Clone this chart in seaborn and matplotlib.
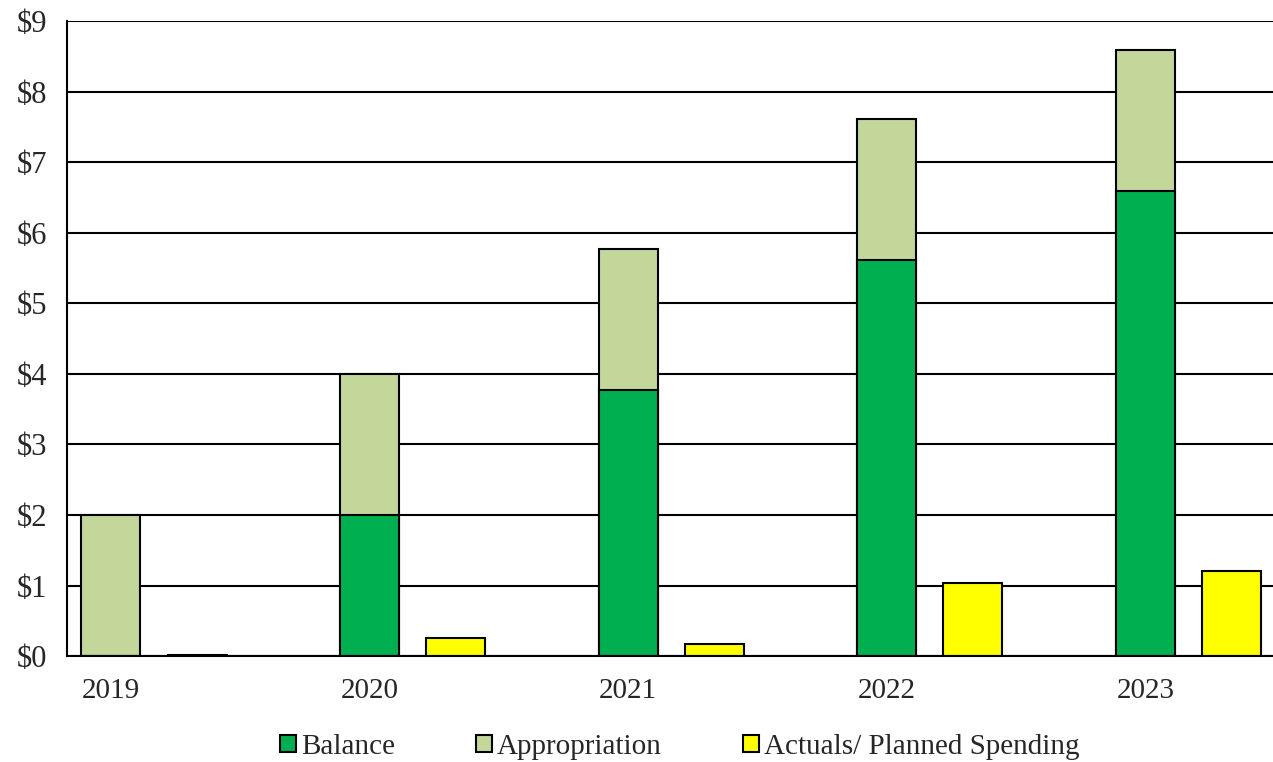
import matplotlib
matplotlib.use("Agg")
import matplotlib.pyplot as plt
import seaborn as sns
import numpy as np
import pandas as pd
from matplotlib.patches import Patch

years = ["2019", "2020", "2021", "2022", "2023"]
balance = [0.0, 2.0, 3.77, 5.61, 6.59]
appropriation = [2.0, 2.0, 2.0, 2.0, 2.0]
actuals = [0.01, 0.25, 0.17, 1.03, 1.20]
yticks = [0, 1, 2, 3, 4, 5, 6, 7, 8, 9]

sns.set_theme(style="white")
plt.rcParams["font.family"] = ["Liberation Serif", "DejaVu Serif"]

fig = plt.figure(figsize=(12.73, 7.62), dpi=100)
ax = fig.add_axes([0.0526, 0.139, 0.9474, 0.8334])

idx = np.arange(len(years))
stack_x = idx.astype(float)
act_x = idx + 0.333
totals = [b + a for b, a in zip(balance, appropriation)]

c_bal = "#00AF50"
c_app = "#C4D79B"
c_act = "#FFFF00"

for y in yticks:
    ax.axhline(y, color="black", lw=1.5, zorder=0)

common = dict(native_scale=True, width=0.228, edgecolor="black", linewidth=1.5, ax=ax, zorder=2)
sns.barplot(x=stack_x, y=totals, color=c_app, saturation=1, **common)
sns.barplot(x=stack_x, y=balance, color=c_bal, saturation=1, **common)
sns.barplot(x=act_x, y=actuals, color=c_act, saturation=1, **common)

ax.set_xlim(-0.170, 4.493)
ax.set_ylim(0, 9)
ax.set_yticks(yticks)
ax.set_yticklabels([f"${v}" for v in yticks], fontsize=22)
ax.set_xticks(stack_x)
ax.set_xticklabels(years, fontsize=21)
ax.tick_params(axis="both", length=0)
ax.tick_params(axis="y", pad=14)
ax.tick_params(axis="x", pad=16)
ax.set_xlabel("")
ax.set_ylabel("")
for s in ["top", "right"]:
    ax.spines[s].set_visible(False)
ax.spines["left"].set_color("black")
ax.spines["left"].set_linewidth(1.5)
ax.spines["bottom"].set_color("black")
ax.spines["bottom"].set_linewidth(1.5)

handles = [Patch(facecolor=c_bal, edgecolor="black", lw=1.5),
           Patch(facecolor=c_app, edgecolor="black", lw=1.5),
           Patch(facecolor=c_act, edgecolor="black", lw=1.5)]
fig.legend(handles, ["Balance", "Appropriation", "Actuals/ Planned Spending"],
           loc="center", bbox_to_anchor=(0.534, 0.020), ncol=3, frameon=False,
           fontsize=21, handlelength=0.55, handleheight=0.55, handletextpad=0.15,
           columnspacing=2.8)

fig.savefig("out.png", dpi=100)
